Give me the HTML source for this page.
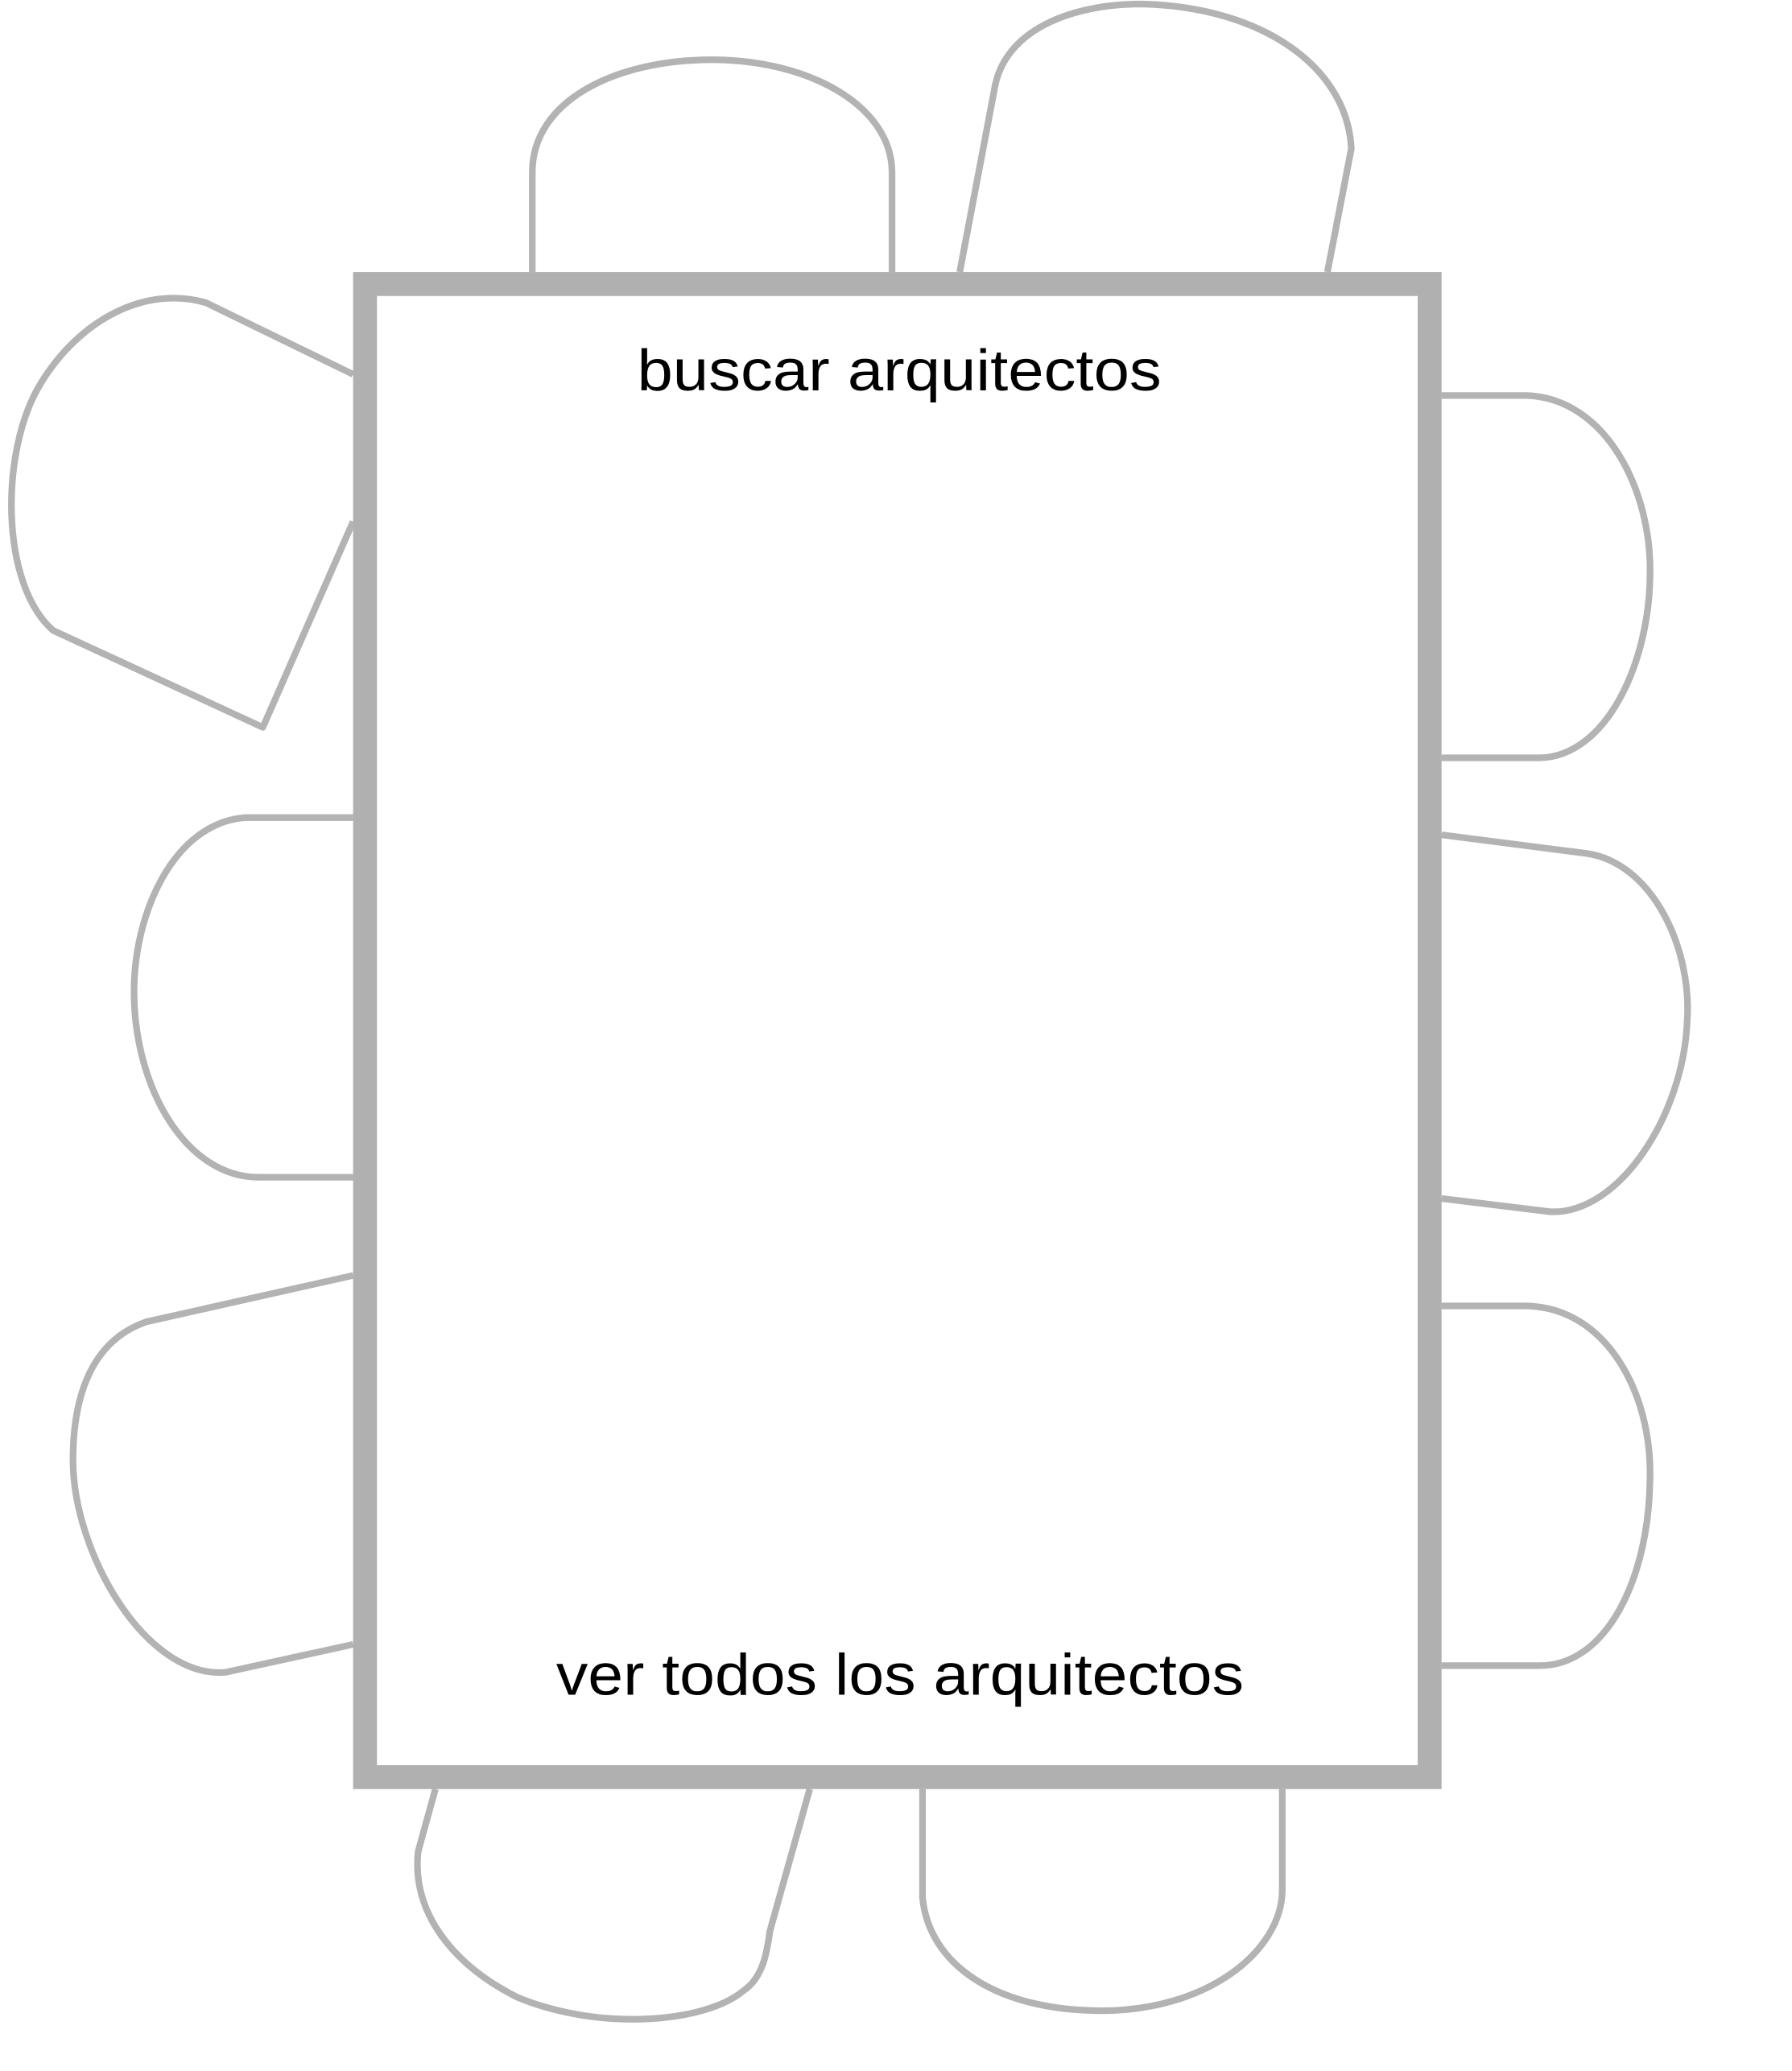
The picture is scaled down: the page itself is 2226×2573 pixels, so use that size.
<!DOCTYPE html>
<html><head><meta charset="utf-8"><style>
html,body{margin:0;padding:0;background:#fff;}
svg{display:block;}
</style></head><body>
<svg width="2226" height="2573" viewBox="0 0 1350 1560.4" xmlns="http://www.w3.org/2000/svg">
<g fill="none" stroke="#b3b3b3" stroke-width="5" stroke-linejoin="round">
<path d="M401,205 L401,130 C401,75 465,45 536,45 C610,45 672,80 672,130 L672,205"/>
<path d="M723,205 L749,68 C756,22 808,3 860,3 C950,5 1015,50 1018,112 L1000,205"/>
<path d="M266,282 L155,228 C110,215 60,240 30,290 C0,340 0,440 40,475 L198,548 L266,393"/>
<path d="M266,616 L185,616 C130,620 100,690 101,750 C102,820 140,887 195,887 L266,887"/>
<path d="M266,961 L110,996 C70,1010 55,1050 55,1100 C55,1170 110,1265 170,1260 L266,1239"/>
<path d="M1086,298 L1150,298 C1210,300 1245,370 1243,435 C1242,500 1210,570 1160,571 L1086,571"/>
<path d="M1086,629 L1195,643 C1245,650 1275,715 1271,770 C1268,840 1220,915 1168,913 L1086,903"/>
<path d="M1086,984 L1150,984 C1210,985 1245,1050 1243,1115 C1242,1190 1210,1255 1160,1255 L1086,1255"/>
<path d="M328,1348 L315,1395 C310,1440 340,1480 390,1505 C450,1530 530,1525 560,1500 C575,1490 578,1470 580,1455 L610,1348"/>
<path d="M695,1348 L695,1430 C700,1480 750,1515 830,1515 C910,1515 965,1470 966,1425 L966,1348"/>
</g>
<rect x="275" y="214" width="802" height="1125" fill="#fff" stroke="#b0b0b0" stroke-width="18"/>
<text x="480" y="294" font-family="'Liberation Sans', sans-serif" font-size="44" fill="#000" textLength="395" lengthAdjust="spacingAndGlyphs">buscar arquitectos</text>
<text x="419" y="1277" font-family="'Liberation Sans', sans-serif" font-size="44" fill="#000" textLength="518" lengthAdjust="spacingAndGlyphs">ver todos los arquitectos</text>
</svg>
</body></html>
